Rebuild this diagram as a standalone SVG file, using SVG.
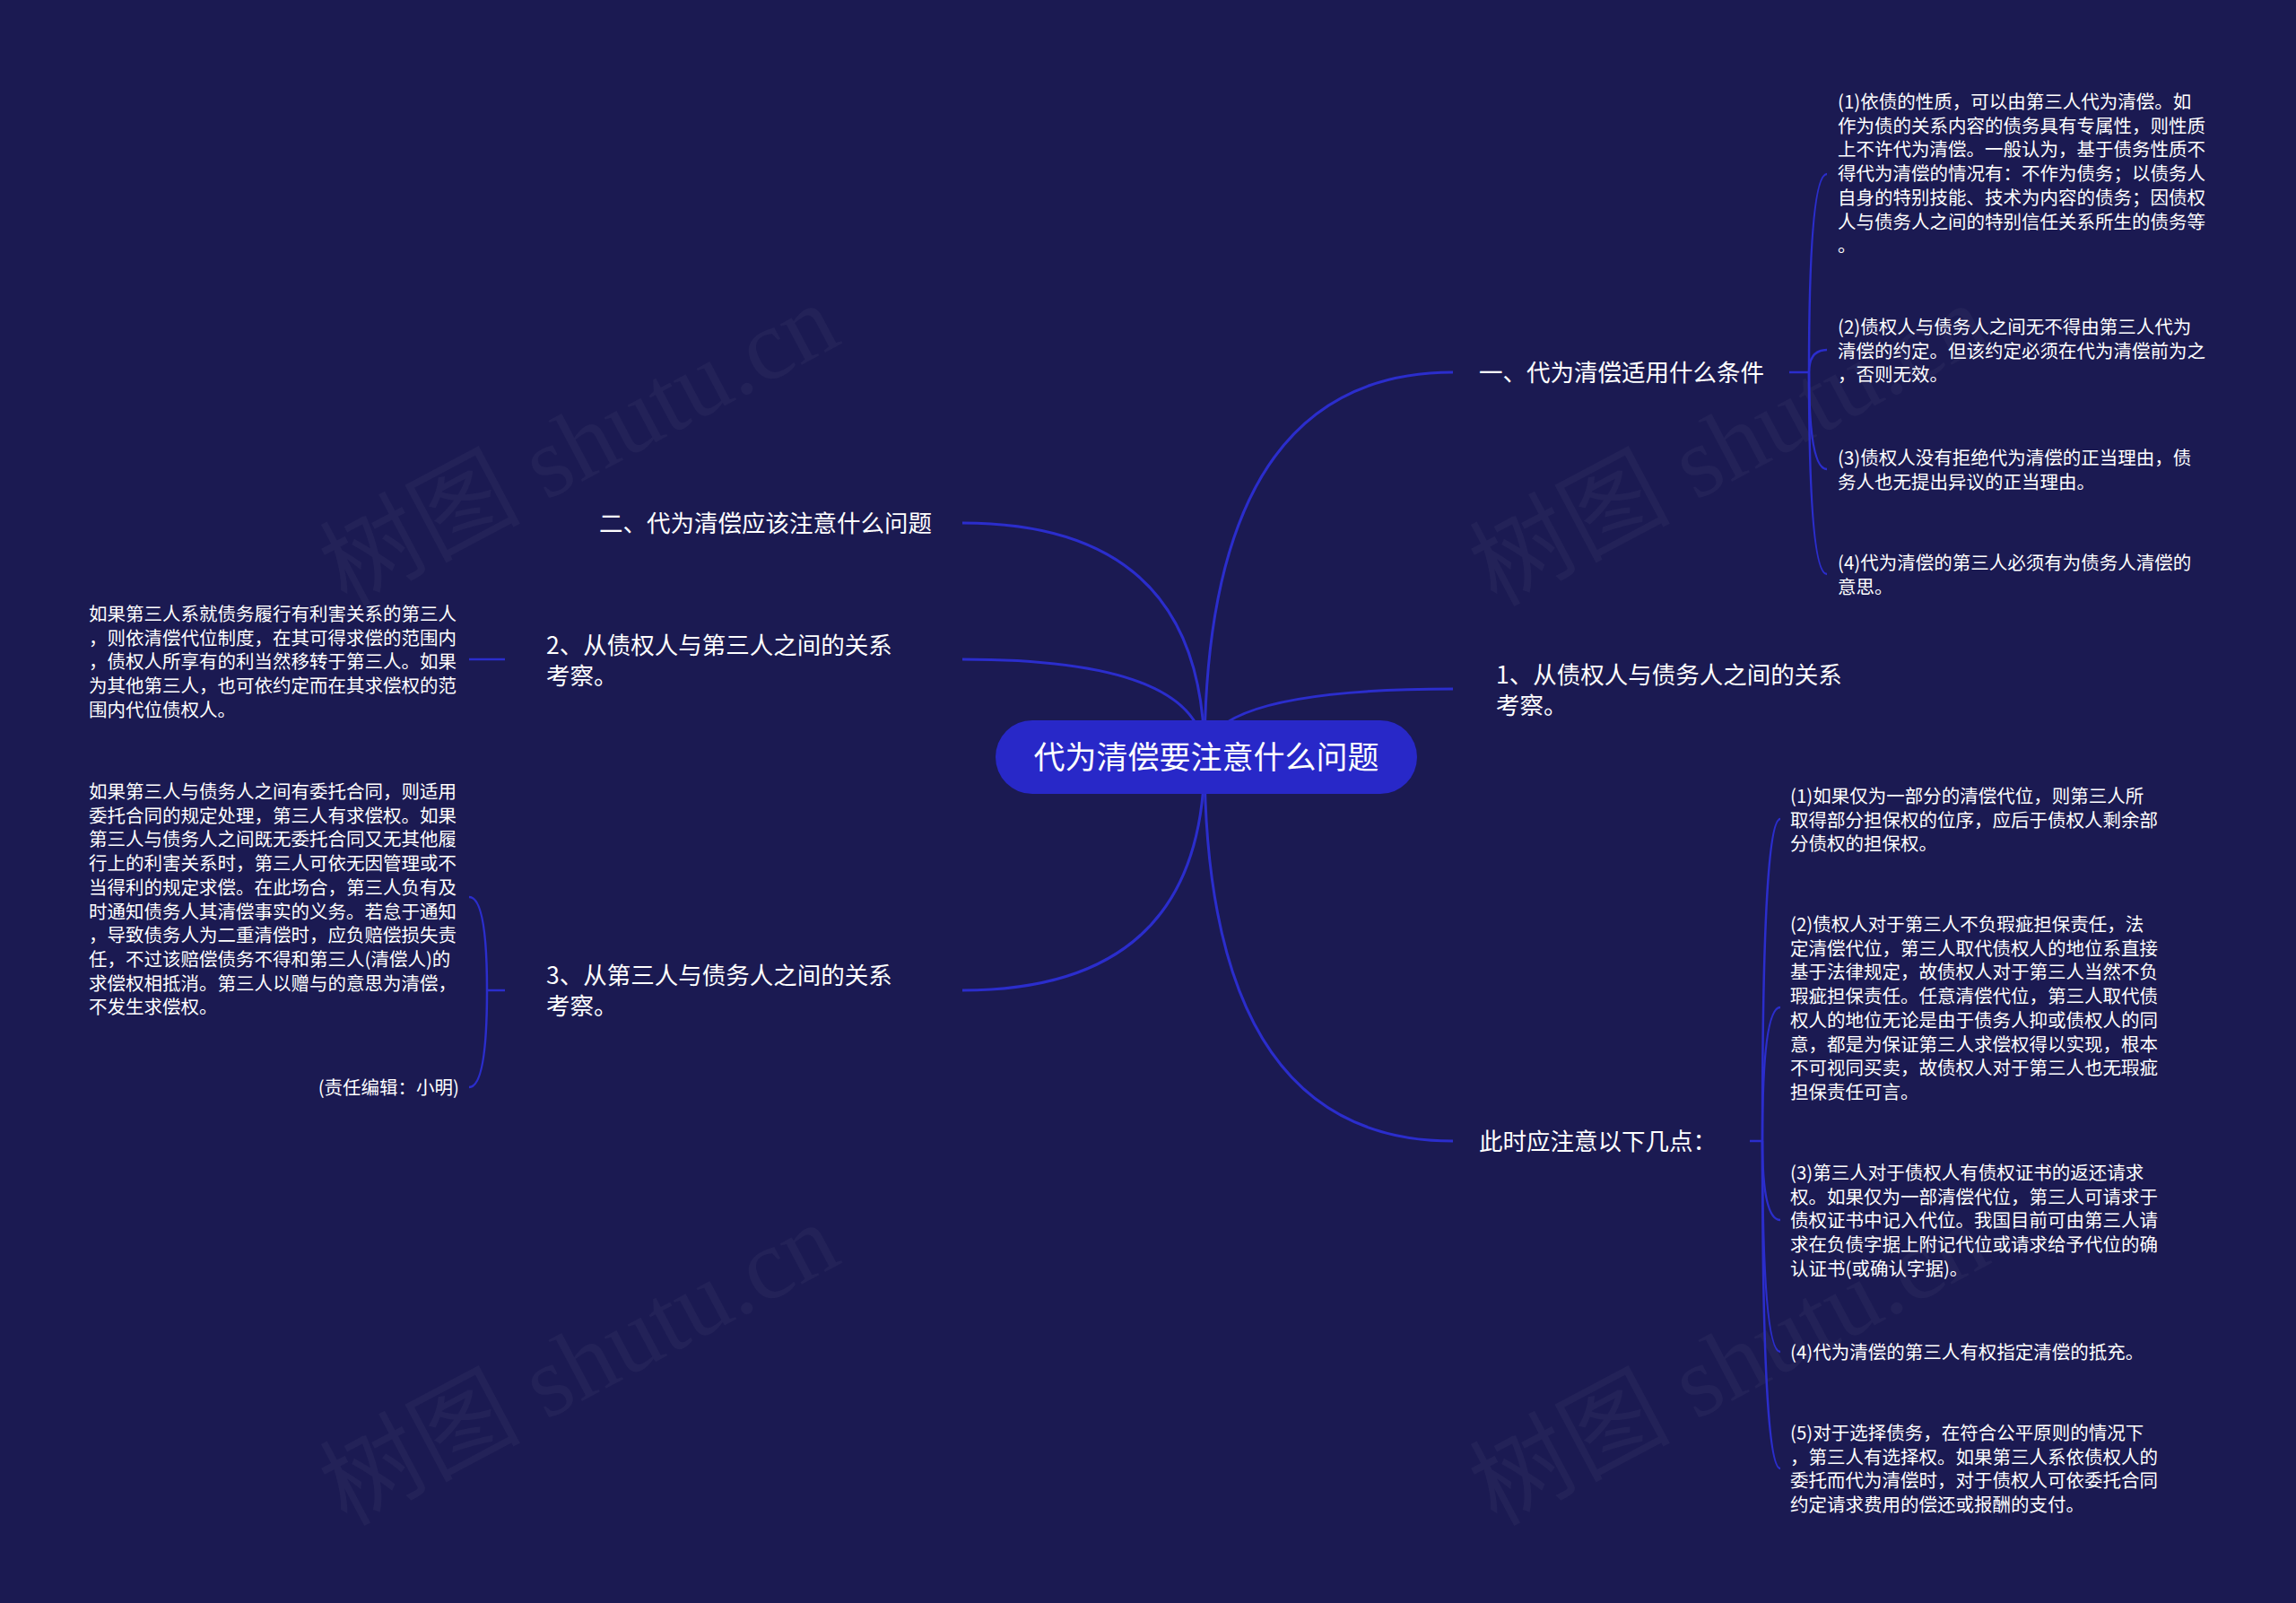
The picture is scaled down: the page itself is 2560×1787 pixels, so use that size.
<svg xmlns="http://www.w3.org/2000/svg" width="2560" height="1787" viewBox="0 0 2560 1787">
<style>
text{font-family:"Noto Sans CJK SC","Noto Sans",sans-serif;fill:#ffffff}
.lbl{font-size:26.5px}
.det{font-size:20.5px}
.rt{font-size:35px}
.wm{font-family:"Liberation Serif","Noto Sans CJK SC",serif;font-size:112px;fill:#ffffff;fill-opacity:0.035}
.c{fill:none;stroke:#2b2dcc;stroke-width:3}
.s{fill:none;stroke:#2b2dcc;stroke-width:2.5}
</style>
<rect width="2560" height="1787" fill="#1b1a52"/>
<g id="watermark">
<text class="wm" x="648" y="533" text-anchor="middle" transform="rotate(-28 648 500)">树图 shutu.cn</text>
<text class="wm" x="1930" y="533" text-anchor="middle" transform="rotate(-28 1930 500)">树图 shutu.cn</text>
<text class="wm" x="648" y="1558" text-anchor="middle" transform="rotate(-28 648 1525)">树图 shutu.cn</text>
<text class="wm" x="1930" y="1558" text-anchor="middle" transform="rotate(-28 1930 1525)">树图 shutu.cn</text>
</g>
<g id="connectors">
<path class="c" d="M1343 844 Q1343 415 1620 415"/>
<path class="c" d="M1343 844 Q1343 768 1620 768"/>
<path class="c" d="M1343 844 Q1343 1272 1620 1272"/>
<path class="c" d="M1343 844 Q1343 583 1073 583"/>
<path class="c" d="M1343 844 Q1343 735 1073 735"/>
<path class="c" d="M1343 844 Q1343 1104 1073 1104"/>
<path class="s" d="M1995 415 H2017"/>
<path class="s" d="M2017 415 Q2017 194 2037 194"/>
<path class="s" d="M2017 415 Q2017 390 2037 390"/>
<path class="s" d="M2017 415 Q2017 523 2037 523"/>
<path class="s" d="M2017 415 Q2017 640 2037 640"/>
<path class="s" d="M1951 1272 H1965"/>
<path class="s" d="M1965 1272 Q1965 913 1985 913"/>
<path class="s" d="M1965 1272 Q1965 1123 1985 1123"/>
<path class="s" d="M1965 1272 Q1965 1360 1985 1360"/>
<path class="s" d="M1965 1272 Q1965 1507 1985 1507"/>
<path class="s" d="M1965 1272 Q1965 1637 1985 1637"/>
<path class="s" d="M563 735 H523"/>
<path class="s" d="M563 1104 H543"/>
<path class="s" d="M543 1104 Q543 1000 523 1000"/>
<path class="s" d="M543 1104 Q543 1212 523 1212"/>
</g>
<g id="root">
<rect x="1110" y="803" width="470" height="82" rx="41" fill="#2828c8"/>
<text class="rt" x="1345" y="857" text-anchor="middle">代为清偿要注意什么问题</text>
</g>
<g id="n-yi">
<text class="lbl" x="1649" y="425">一、代为清偿适用什么条件</text>
</g>
<g id="n-yi-1">
<text class="det" x="2049" y="121"><tspan x="2049">(1)依债的性质，可以由第三人代为清偿。如</tspan><tspan x="2049" dy="26.7">作为债的关系内容的债务具有专属性，则性质</tspan><tspan x="2049" dy="26.7">上不许代为清偿。一般认为，基于债务性质不</tspan><tspan x="2049" dy="26.7">得代为清偿的情况有：不作为债务；以债务人</tspan><tspan x="2049" dy="26.7">自身的特别技能、技术为内容的债务；因债权</tspan><tspan x="2049" dy="26.7">人与债务人之间的特别信任关系所生的债务等</tspan><tspan x="2049" dy="26.7">。</tspan></text>
</g>
<g id="n-yi-2">
<text class="det" x="2049" y="372"><tspan x="2049">(2)债权人与债务人之间无不得由第三人代为</tspan><tspan x="2049" dy="26.7">清偿的约定。但该约定必须在代为清偿前为之</tspan><tspan x="2049" dy="26.7">，否则无效。</tspan></text>
</g>
<g id="n-yi-3">
<text class="det" x="2049" y="518"><tspan x="2049">(3)债权人没有拒绝代为清偿的正当理由，债</tspan><tspan x="2049" dy="26.7">务人也无提出异议的正当理由。</tspan></text>
</g>
<g id="n-yi-4">
<text class="det" x="2049" y="635"><tspan x="2049">(4)代为清偿的第三人必须有为债务人清偿的</tspan><tspan x="2049" dy="26.7">意思。</tspan></text>
</g>
<g id="n-1">
<text class="lbl" x="1668" y="762"><tspan x="1668">1、从债权人与债务人之间的关系</tspan><tspan x="1668" dy="34">考察。</tspan></text>
</g>
<g id="n-ci">
<text class="lbl" x="1649" y="1282">此时应注意以下几点：</text>
</g>
<g id="n-ci-1">
<text class="det" x="1996" y="895"><tspan x="1996">(1)如果仅为一部分的清偿代位，则第三人所</tspan><tspan x="1996" dy="26.7">取得部分担保权的位序，应后于债权人剩余部</tspan><tspan x="1996" dy="26.7">分债权的担保权。</tspan></text>
</g>
<g id="n-ci-2">
<text class="det" x="1996" y="1038"><tspan x="1996">(2)债权人对于第三人不负瑕疵担保责任，法</tspan><tspan x="1996" dy="26.7">定清偿代位，第三人取代债权人的地位系直接</tspan><tspan x="1996" dy="26.7">基于法律规定，故债权人对于第三人当然不负</tspan><tspan x="1996" dy="26.7">瑕疵担保责任。任意清偿代位，第三人取代债</tspan><tspan x="1996" dy="26.7">权人的地位无论是由于债务人抑或债权人的同</tspan><tspan x="1996" dy="26.7">意，都是为保证第三人求偿权得以实现，根本</tspan><tspan x="1996" dy="26.7">不可视同买卖，故债权人对于第三人也无瑕疵</tspan><tspan x="1996" dy="26.7">担保责任可言。</tspan></text>
</g>
<g id="n-ci-3">
<text class="det" x="1996" y="1315"><tspan x="1996">(3)第三人对于债权人有债权证书的返还请求</tspan><tspan x="1996" dy="26.7">权。如果仅为一部清偿代位，第三人可请求于</tspan><tspan x="1996" dy="26.7">债权证书中记入代位。我国目前可由第三人请</tspan><tspan x="1996" dy="26.7">求在负债字据上附记代位或请求给予代位的确</tspan><tspan x="1996" dy="26.7">认证书(或确认字据)。</tspan></text>
</g>
<g id="n-ci-4">
<text class="det" x="1996" y="1515">(4)代为清偿的第三人有权指定清偿的抵充。</text>
</g>
<g id="n-ci-5">
<text class="det" x="1996" y="1605"><tspan x="1996">(5)对于选择债务，在符合公平原则的情况下</tspan><tspan x="1996" dy="26.7">，第三人有选择权。如果第三人系依债权人的</tspan><tspan x="1996" dy="26.7">委托而代为清偿时，对于债权人可依委托合同</tspan><tspan x="1996" dy="26.7">约定请求费用的偿还或报酬的支付。</tspan></text>
</g>
<g id="n-er">
<text class="lbl" x="668" y="593">二、代为清偿应该注意什么问题</text>
</g>
<g id="n-2">
<text class="lbl" x="609" y="729"><tspan x="609">2、从债权人与第三人之间的关系</tspan><tspan x="609" dy="34">考察。</tspan></text>
</g>
<g id="n-2-1">
<text class="det" x="99" y="692"><tspan x="99">如果第三人系就债务履行有利害关系的第三人</tspan><tspan x="99" dy="26.7">，则依清偿代位制度，在其可得求偿的范围内</tspan><tspan x="99" dy="26.7">，债权人所享有的利当然移转于第三人。如果</tspan><tspan x="99" dy="26.7">为其他第三人，也可依约定而在其求偿权的范</tspan><tspan x="99" dy="26.7">围内代位债权人。</tspan></text>
</g>
<g id="n-3">
<text class="lbl" x="609" y="1097"><tspan x="609">3、从第三人与债务人之间的关系</tspan><tspan x="609" dy="34">考察。</tspan></text>
</g>
<g id="n-3-1">
<text class="det" x="99" y="890"><tspan x="99">如果第三人与债务人之间有委托合同，则适用</tspan><tspan x="99" dy="26.7">委托合同的规定处理，第三人有求偿权。如果</tspan><tspan x="99" dy="26.7">第三人与债务人之间既无委托合同又无其他履</tspan><tspan x="99" dy="26.7">行上的利害关系时，第三人可依无因管理或不</tspan><tspan x="99" dy="26.7">当得利的规定求偿。在此场合，第三人负有及</tspan><tspan x="99" dy="26.7">时通知债务人其清偿事实的义务。若怠于通知</tspan><tspan x="99" dy="26.7">，导致债务人为二重清偿时，应负赔偿损失责</tspan><tspan x="99" dy="26.7">任，不过该赔偿债务不得和第三人(清偿人)的</tspan><tspan x="99" dy="26.7">求偿权相抵消。第三人以赠与的意思为清偿，</tspan><tspan x="99" dy="26.7">不发生求偿权。</tspan></text>
</g>
<g id="n-3-2">
<text class="det" x="512" y="1220" text-anchor="end">(责任编辑：小明)</text>
</g>
</svg>
